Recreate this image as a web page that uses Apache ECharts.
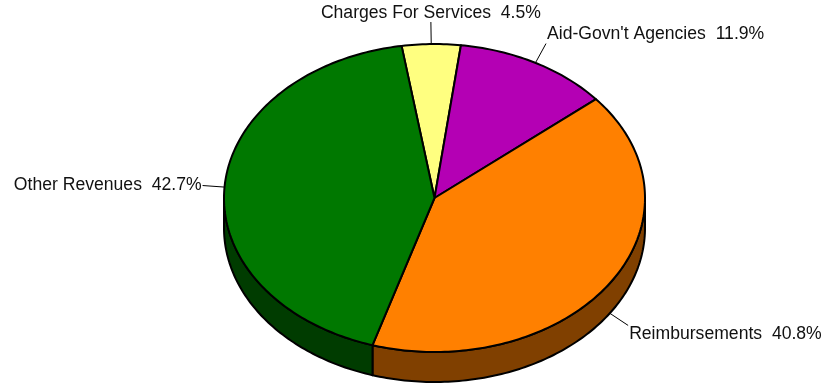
<!DOCTYPE html>
<html><head><meta charset="utf-8">
<script src="https://cdn.jsdelivr.net/npm/echarts@6/dist/echarts.min.js"></script>
<style>html,body{margin:0;padding:0;background:#fff}#chart{width:832px;height:385px}</style>
</head><body><div id="chart"></div>
<script>
// Revenue sources, percent of total
const categories = ['Charges For Services', "Aid-Govn't Agencies", 'Reimbursements', 'Other Revenues'];
const shares = [4.5, 11.9, 40.8, 42.7];
const topColors = ['#ffff80', '#b400b4', '#ff8000', '#007800'];
const sideColors = ['#808040', '#5a005a', '#804000', '#003c00'];

// Tilted-disc geometry (ellipse top face plus a visible front wall)
const pie = { cx: 434.5, cy: 198, rx: 210.5, ry: 154, depth: 30, startAngle: 99, leader: 22 };
const fontFamily = '"Liberation Sans", Arial, sans-serif';

const total = shares.reduce((a, b) => a + b, 0);
const slices = [];
let acc = pie.startAngle;
shares.forEach(v => {
  const span = v / total * 360;
  slices.push({ a0: acc, a1: acc - span });
  acc -= span;
});

function pt(t, dy) {
  const r = t * Math.PI / 180;
  return [pie.cx + pie.rx * Math.cos(r), pie.cy - pie.ry * Math.sin(r) + (dy || 0)];
}
function arc(from, to, dy) {
  const n = Math.max(2, Math.ceil(Math.abs(from - to)));
  const pts = [];
  for (let k = 0; k <= n; k++) pts.push(pt(from + (to - from) * k / n, dy));
  return pts;
}

function renderSide(params, api) {
  const i = params.dataIndex;
  const s = slices[i];
  const children = [];
  [0, -360, 360].forEach(off => {
    const lo = Math.max(s.a1, -180 + off);
    const hi = Math.min(s.a0, off);
    if (hi > lo) {
      const pts = arc(hi, lo, 0).concat(arc(lo, hi, pie.depth));
      children.push({
        type: 'polygon', shape: { points: pts },
        style: { fill: sideColors[i], stroke: '#000', lineWidth: 2, lineJoin: 'round' }
      });
    }
  });
  return { type: 'group', children };
}

function renderTop(params, api) {
  const i = params.dataIndex;
  const s = slices[i];
  const pts = [[pie.cx, pie.cy]].concat(arc(s.a0, s.a1, 0));
  return {
    type: 'polygon', shape: { points: pts },
    style: { fill: topColors[i], stroke: '#000', lineWidth: 2, lineJoin: 'round' }
  };
}

function renderLabel(params, api) {
  const i = params.dataIndex;
  const s = slices[i];
  const mid = (s.a0 + s.a1) / 2;
  const r = mid * Math.PI / 180;
  const c = Math.cos(r), sn = Math.sin(r);
  const anchor = pt(mid, sn < 0 ? pie.depth : 0);
  const end = [anchor[0] + c * pie.leader, anchor[1] - sn * pie.leader];
  let align, vAlign, tx = end[0], ty = end[1];
  if (Math.abs(c) < 0.3) {
    align = 'center';
    vAlign = sn > 0 ? 'bottom' : 'top';
  } else {
    align = c > 0 ? 'left' : 'right';
    tx += c > 0 ? 1 : -1;
    vAlign = sn > 0.3 ? 'bottom' : (sn < -0.3 ? 'top' : 'middle');
  }
  return {
    type: 'group',
    children: [
      { type: 'polyline', shape: { points: [anchor, end] },
        style: { stroke: '#000', lineWidth: 1, fill: null } },
      { type: 'text',
        style: { text: categories[i] + '  ' + shares[i].toFixed(1) + '%', x: tx, y: ty,
                 align: align, verticalAlign: vAlign, fill: '#111',
                 fontSize: 17.6, fontFamily: fontFamily } }
    ]
  };
}

const data = shares.map((v, i) => [i, v]);
const chart = echarts.init(document.getElementById('chart'), null, { renderer: 'canvas' });
chart.setOption({
  animation: false,
  backgroundColor: '#fff',
  series: [
    { type: 'custom', coordinateSystem: 'none', data, renderItem: renderSide, z: 1, silent: true },
    { type: 'custom', coordinateSystem: 'none', data, renderItem: renderTop, z: 2, silent: true },
    { type: 'custom', coordinateSystem: 'none', data, renderItem: renderLabel, z: 3, silent: true }
  ]
});
</script>
</body></html>
